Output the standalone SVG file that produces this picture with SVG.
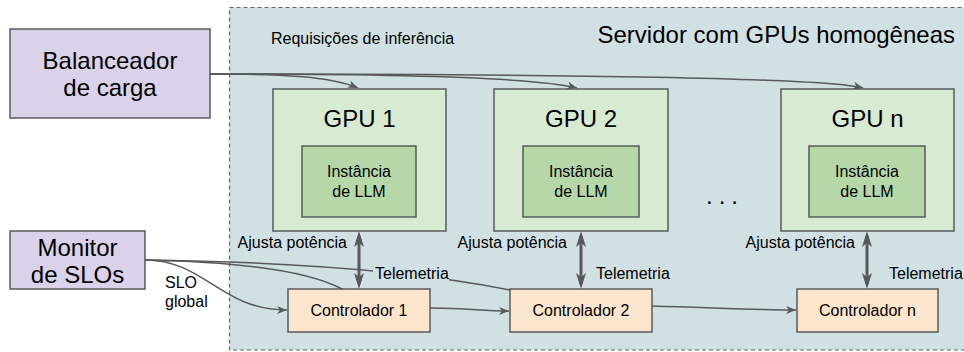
<svg xmlns="http://www.w3.org/2000/svg" width="964" height="352" viewBox="0 0 964 352">
<defs>
<style>
text{font-family:"Liberation Sans",Arial,sans-serif;fill:#000}
.big{font-size:24px}
.sm{font-size:16px}
.box{stroke:#595959;stroke-width:1.5}
.purple{fill:#d9d2e9}
.gpu{fill:#d9ead3}
.inst{fill:#b6d7a8}
.ctrl{fill:#fce5cd}
.edge{fill:none;stroke:#595959;stroke-width:1.5}
.thick{fill:none;stroke:#595959;stroke-width:3;marker-start:url(#big);marker-end:url(#big)}
</style>
<marker id="arr" markerUnits="userSpaceOnUse" markerWidth="12" markerHeight="10" refX="10" refY="4" orient="auto" viewBox="0 0 12 10">
<path d="M0,0 L10,4 L0,8 L3,4 z" fill="#595959"/>
</marker>
<marker id="big" markerUnits="userSpaceOnUse" markerWidth="18" markerHeight="12" refX="11" refY="5" orient="auto-start-reverse" viewBox="0 0 18 12">
<path d="M0,0 L16,5 L0,10 L4,5 z" fill="#595959"/>
</marker>
</defs>

<g id="servidor">
<rect x="229.5" y="7.5" width="760" height="342.5" fill="#d0e0e3" stroke="#666" stroke-width="1.2" stroke-dasharray="4 3"/>
<text class="big" x="955" y="43" text-anchor="end">Servidor com GPUs homogêneas</text>
<text class="sm" x="271" y="44">Requisições de inferência</text>
<text x="725" y="204" font-size="24" text-anchor="middle" letter-spacing="6">...</text>
</g>

<g id="balanceador">
<rect class="box purple" x="10" y="29" width="200" height="89"/>
<text class="big" x="110" y="69" text-anchor="middle">Balanceador</text>
<text class="big" x="110" y="96" text-anchor="middle">de carga</text>
</g>

<g id="monitor">
<rect class="box purple" x="10" y="231" width="135" height="58"/>
<text class="big" x="77.5" y="256" text-anchor="middle">Monitor</text>
<text class="big" x="77.5" y="283" text-anchor="middle">de SLOs</text>
</g>

<g id="gpu1">
<rect class="box gpu" x="273" y="89" width="173" height="142"/>
<text class="big" x="359.5" y="127" text-anchor="middle">GPU 1</text>
<rect class="box inst" x="302" y="146" width="114" height="71"/>
<text class="sm" x="359" y="177" text-anchor="middle">Instância</text>
<text class="sm" x="359" y="197" text-anchor="middle">de LLM</text>
</g>

<g id="gpu2">
<rect class="box gpu" x="494" y="89" width="174" height="142"/>
<text class="big" x="581" y="127" text-anchor="middle">GPU 2</text>
<rect class="box inst" x="523" y="146" width="116" height="71"/>
<text class="sm" x="581" y="177" text-anchor="middle">Instância</text>
<text class="sm" x="581" y="197" text-anchor="middle">de LLM</text>
</g>

<g id="gpun">
<rect class="box gpu" x="781" y="89" width="173" height="142"/>
<text class="big" x="867.5" y="127" text-anchor="middle">GPU n</text>
<rect class="box inst" x="809" y="146" width="116" height="71"/>
<text class="sm" x="867" y="177" text-anchor="middle">Instância</text>
<text class="sm" x="867" y="197" text-anchor="middle">de LLM</text>
</g>

<g id="controlador1">
<rect class="box ctrl" x="288" y="289" width="142" height="43"/>
<text class="sm" x="359" y="316" text-anchor="middle">Controlador 1</text>
</g>

<g id="controlador2">
<rect class="box ctrl" x="510" y="289" width="142" height="43"/>
<text class="sm" x="581" y="316" text-anchor="middle">Controlador 2</text>
</g>

<g id="controladorn">
<rect class="box ctrl" x="797" y="289" width="141" height="43"/>
<text class="sm" x="867.5" y="316" text-anchor="middle">Controlador n</text>
</g>

<g id="connectors">
<path class="edge" d="M210,74 C280,74 330,76 358,88" marker-end="url(#arr)"/>
<path class="edge" d="M210,74 C400,74 540,78 577,88" marker-end="url(#arr)"/>
<path class="edge" d="M210,74 C500,74 820,77 863,88" marker-end="url(#arr)"/>

<path class="edge" d="M145,260 C205,260 220,310 287,310" marker-end="url(#arr)"/>
<path class="edge" d="M145,260 C250,262 310,272 342,289"/>
<path class="edge" d="M145,260 C300,262 420,272 510,290"/>

<path class="edge" d="M430,308 C470,308 480,311 509,311" marker-end="url(#arr)"/>
<path class="edge" d="M652,306 C720,308 760,310 796,310" marker-end="url(#arr)"/>

<path class="thick" d="M359,236 L359,284"/>
<path class="thick" d="M581,236 L581,284"/>
<path class="thick" d="M867,236 L867,284"/>

<text class="sm" x="347" y="248" text-anchor="end">Ajusta potência</text>
<text class="sm" x="567" y="248" text-anchor="end">Ajusta potência</text>
<text class="sm" x="855" y="248" text-anchor="end">Ajusta potência</text>
<rect x="373" y="266" width="76" height="16" fill="#d0e0e3"/>
<text class="sm" x="375" y="279">Telemetria</text>
<text class="sm" x="596" y="279">Telemetria</text>
<text class="sm" x="889" y="279">Telemetria</text>
<text class="sm" x="165" y="288">SLO</text>
<text class="sm" x="165" y="307">global</text>
</g>
</svg>
